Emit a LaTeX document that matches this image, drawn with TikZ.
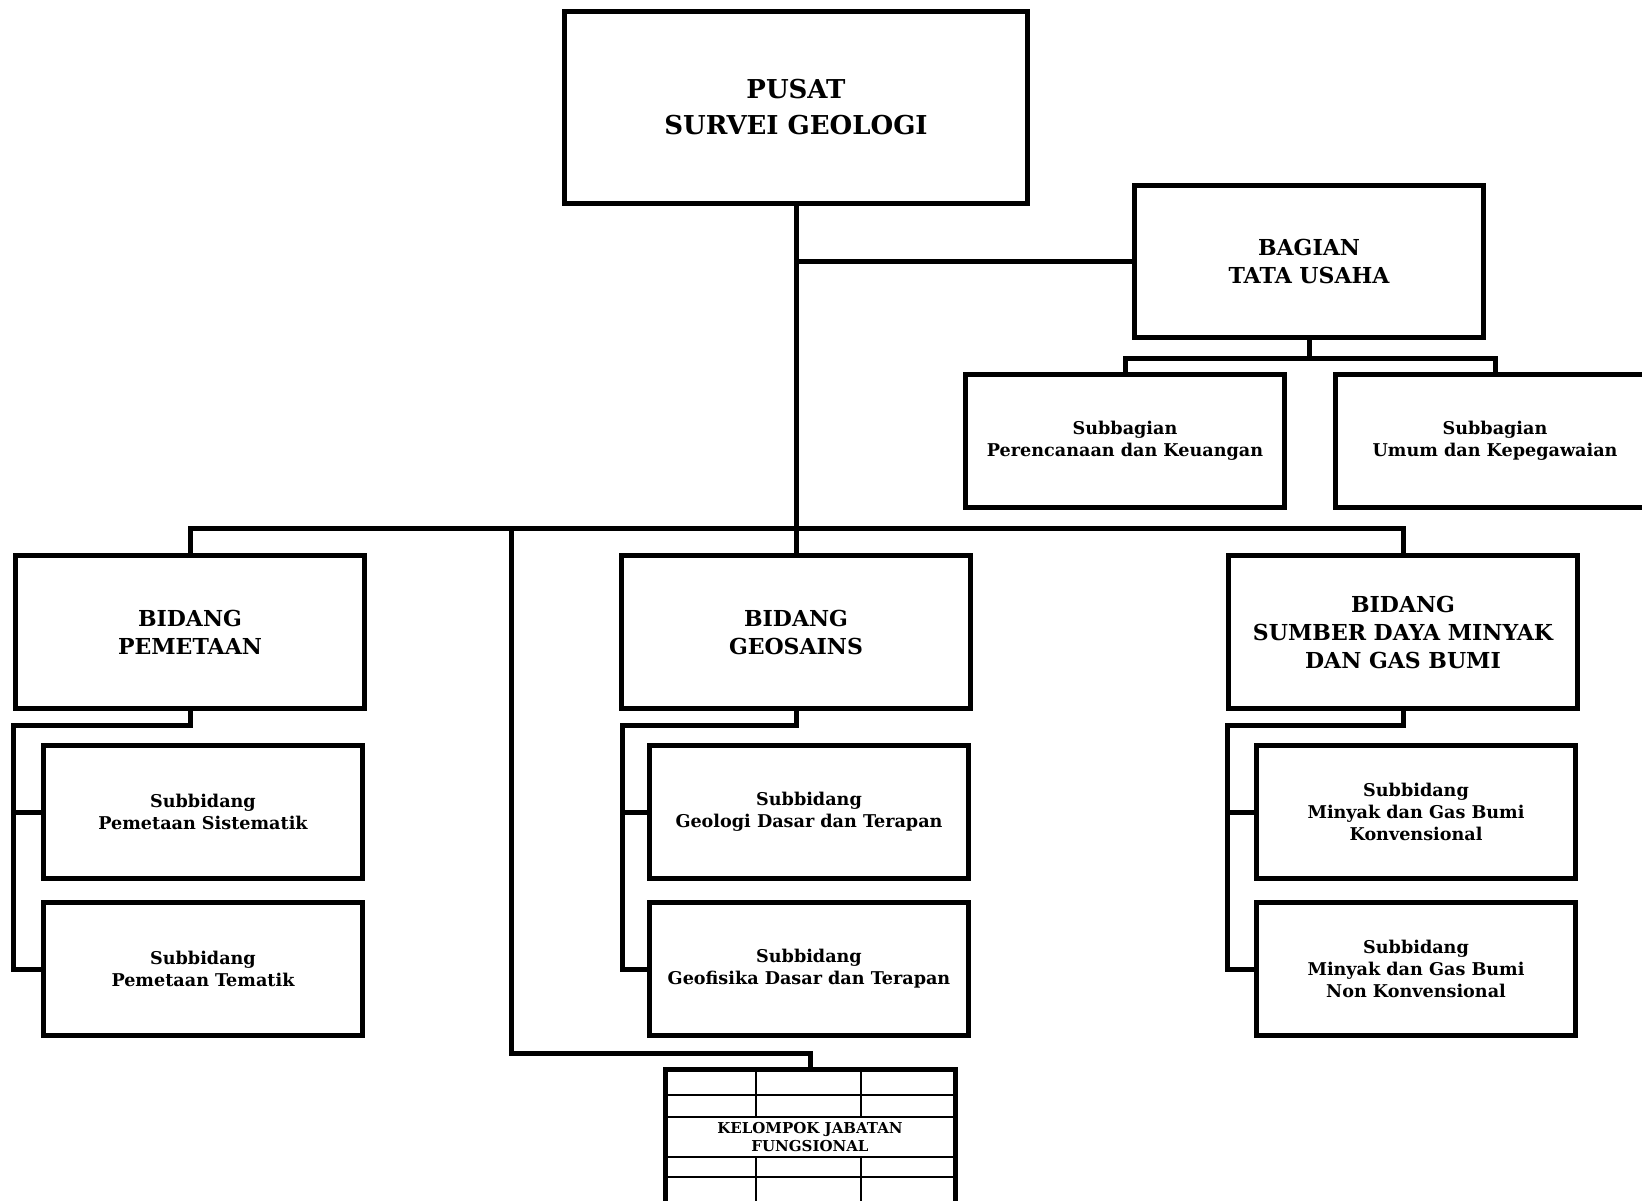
\documentclass[tikz,border=0pt]{standalone}
\usepackage{fontspec}
\setmainfont{DejaVu Serif}
\usetikzlibrary{positioning, calc}

\begin{document}
\begin{tikzpicture}[x=0.5pt, y=-0.5pt,
    box/.style={draw, line width=2.5pt, align=center, inner sep=0pt},
    headbox/.style={box, minimum width=231.5pt, minimum height=96pt, font=\bfseries\fontsize{13}{18}\selectfont},
    unitbox/.style={box, minimum width=174.5pt, minimum height=76.5pt, font=\bfseries\fontsize{11}{14}\selectfont},
    subbox/.style={box, minimum width=159.5pt, minimum height=66.5pt, font=\bfseries\fontsize{8.8}{11}\selectfont},
    tablebox/.style={box, minimum width=145pt, minimum height=67.5pt, font=\bfseries\fontsize{7.5}{9}\selectfont},
    link/.style={line width=2.5pt},
    grid/.style={line width=1.4pt}]
    \useasboundingbox (0,0) rectangle (1642,1200);

    % top level
    \node[headbox] (pusat) at (796,107) {PUSAT\\SURVEI GEOLOGI};
    \node[unitbox, minimum height=76pt] (tu) at (1309,261) {BAGIAN\\TATA USAHA};
    \node[subbox] (sbPK) at (1125,441) {Subbagian\\Perencanaan dan Keuangan};
    \node[subbox] (sbUK) at (1495,441) {Subbagian\\Umum dan Kepegawaian};

    % bidang
    \node[unitbox] (bidPeta) at (190,632) {BIDANG\\PEMETAAN};
    \node[unitbox] (bidGeo) at (796,632) {BIDANG\\GEOSAINS};
    \node[unitbox] (bidMigas) at (1403,632) {BIDANG\\SUMBER DAYA MINYAK\\DAN GAS BUMI};

    % subbidang
    \node[subbox] (sbSis) at (203,812) {Subbidang\\Pemetaan Sistematik};
    \node[subbox] (sbTem) at (203,969) {Subbidang\\Pemetaan Tematik};
    \node[subbox] (sbDas) at (809,812) {Subbidang\\Geologi Dasar dan Terapan};
    \node[subbox] (sbFis) at (809,969) {Subbidang\\Geofisika Dasar dan Terapan};
    \node[subbox] (sbKon) at (1416,812) {Subbidang\\Minyak dan Gas Bumi\\Konvensional};
    \node[subbox] (sbNon) at (1416,969) {Subbidang\\Minyak dan Gas Bumi\\Non Konvensional};

    % kelompok jabatan fungsional
    \node[tablebox] (kjf) at (810,1137) {KELOMPOK JABATAN\\FUNGSIONAL};
    \foreach \y in {1095,1117,1157,1177}
        \draw[grid] (665,\y) -- (955,\y);
    \foreach \x in {756,861} {
        \draw[grid] (\x,1069) -- (\x,1117);
        \draw[grid] (\x,1157) -- (\x,1205);
    }

    % connectors
    \draw[link] (pusat.south) -- (bidGeo.north);
    \draw[link] (pusat.south |- tu.west) -- (tu.west);
    \draw[link] (tu.south) -- ++(0,19) coordinate (tuBar);
    \draw[link] (sbPK.north) |- (tuBar) -| (sbUK.north);
    \draw[link] (bidPeta.north) -- ++(0,-25) coordinate (barL) -| (bidMigas.north);

    \coordinate (kjfBend) at (511,1053);
    \draw[link] (kjfBend |- barL) -- (kjfBend) -| (kjf.north);

    \foreach \bid/\a/\b/\bx in {bidPeta/sbSis/sbTem/13, bidGeo/sbDas/sbFis/622, bidMigas/sbKon/sbNon/1227} {
        \coordinate (rail) at (\bx,0);
        \draw[link] (\bid.south) -- ++(0,14) coordinate (knee) -- (knee -| rail) |- (\b.west);
        \draw[link] (rail |- \a.west) -- (\a.west);
    }
\end{tikzpicture}
\end{document}
